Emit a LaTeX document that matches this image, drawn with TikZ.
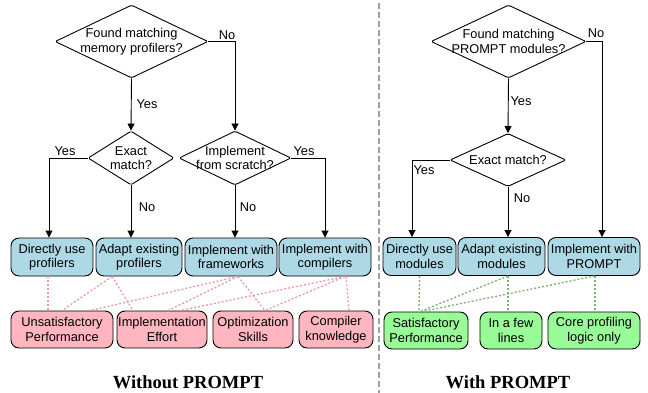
\documentclass[tikz,border=0pt]{standalone}
\usepackage{fontspec}
\newfontfamily\helv{Liberation Sans}
\newfontfamily\titlefont{Liberation Serif}
\usetikzlibrary{shapes.geometric,arrows.meta}
\definecolor{boxblue}{HTML}{ADD8E6}
\definecolor{boxpink}{HTML}{FFB6C1}
\definecolor{boxgreen}{HTML}{98FB98}
\definecolor{linkpink}{HTML}{E89AA8}
\definecolor{linkgreen}{HTML}{7FAF72}
\definecolor{divgray}{HTML}{A0A0A0}
\begin{document}
\begin{tikzpicture}[x=1pt,y=-1pt,
  every node/.style={font=\helv\fontsize{12.8}{14.5}\selectfont, align=center},
  decision/.style={diamond, draw, line width=0.9pt, inner sep=0pt, rounded corners=1.5pt},
  txt/.style={inner sep=0pt},
  outcome/.style={draw, line width=0.9pt, rounded corners=8pt, minimum height=38pt, inner sep=0pt, fill=boxblue},
  badeffect/.style={outcome, minimum height=37pt, fill=boxpink},
  goodeffect/.style={outcome, minimum height=37pt, fill=boxgreen},
  flow/.style={-{Triangle[width=7pt,length=7pt]}, line width=0.9pt},
  lbl/.style={inner sep=0pt},
  badlink/.style={draw=linkpink, line width=1.3pt, dash pattern=on 2pt off 2pt},
  goodlink/.style={draw=linkgreen, line width=1.3pt, dash pattern=on 2pt off 2pt},
  title/.style={font=\titlefont\bfseries\fontsize{18.5}{20}\selectfont, inner sep=0pt}
]
\fill[white] (0,0) rectangle (648,393);
\useasboundingbox (0,0) rectangle (648,393);

% divider
\draw[divgray, line width=2pt, dash pattern=on 6pt off 3pt] (379,3) -- (379,393);

% ---------- left: without PROMPT ----------
\node[decision, minimum width=153pt, minimum height=73pt] (d1) at (131.5,41.5) {};
\node[txt] (d1t) at (d1.center) {Found matching\\memory profilers?};
\node[decision, minimum width=86pt, minimum height=54pt] (d2) at (131,158) {};
\node[txt] (d2t) at (d2.center) {Exact\\match?};
\node[decision, minimum width=112pt, minimum height=54pt] (d3) at (235,158) {};
\node[txt] (d3t) at (d3.center) {Implement\\from scratch?};

\node[outcome, minimum width=82pt] (b1) at (52,257) {Directly use\\profilers};
\node[outcome, minimum width=86pt] (b2) at (139,257) {Adapt existing\\profilers};
\node[outcome, minimum width=92pt] (b3) at (231,257) {Implement with\\frameworks};
\node[outcome, minimum width=92pt] (b4) at (325,257) {Implement with\\compilers};

\node[badeffect, minimum width=102pt] (p1) at (62,329.5) {Unsatisfactory\\Performance};
\node[badeffect, minimum width=90pt] (p2) at (162,329.5) {Implementation\\Effort};
\node[badeffect, minimum width=80pt] (p3) at (253,329.5) {Optimization\\Skills};
\node[badeffect, minimum width=74pt] (p4) at (336,329.5) {Compiler\\knowledge};

\draw[flow] (d1.south) -- (d2.north);
\draw[flow] (d1.east) -| (d3.north);
\draw[flow] (d2.west) -| ([xshift=-3pt]b1.north);
\draw[flow] (d2.south) -- (d2.south |- b2.north);
\draw[flow] (d3.south) -- (d3.south |- b3.north);
\draw[flow] (d3.east) -| (b4.north);

\node[lbl] (l1) at (227,35) {No};
\node[lbl] (l2) at (147,104) {Yes};
\node[lbl] (l3) at (65,151) {Yes};
\node[lbl] (l4) at (147,207) {No};
\node[lbl] (l5) at (248,207) {No};
\node[lbl] (l6) at (304,151) {Yes};

\draw[badlink] ([xshift=-4pt]b1.south) -- ([xshift=-14pt]p1.north);
\draw[badlink] ([xshift=-27pt]b2.south) -- (p1.north);
\draw[badlink] ([xshift=-27pt]b2.south) -- ([xshift=-29pt]p2.north);
\draw[badlink] ([xshift=7pt]b3.south) -- ([xshift=28pt]p1.north);
\draw[badlink] ([xshift=7pt]b3.south) -- ([xshift=6pt]p2.north);
\draw[badlink] ([xshift=7pt]b3.south) -- ([xshift=12pt]p3.north);
\draw[badlink] ([xshift=20pt]b4.south) -- ([xshift=18pt]p2.north);
\draw[badlink] ([xshift=20pt]b4.south) -- ([xshift=12pt]p3.north);
\draw[badlink] ([xshift=21pt]b4.south) -- ([xshift=13pt]p4.north);

\node[title] (t1) at (188,382) {Without PROMPT};

% ---------- right: with PROMPT ----------
\node[decision, minimum width=155pt, minimum height=73pt] (r1) at (508.5,41.5) {};
\node[txt] (r1t) at (r1.center) {Found matching\\PROMPT modules?};
\node[decision, minimum width=116pt, minimum height=53pt] (r2) at (508,160) {};
\node[txt] (r2t) at (r2.center) {Exact match?};

\node[outcome, minimum width=73pt] (s1) at (419.5,256.5) {Directly use\\modules};
\node[outcome, minimum width=87pt] (s2) at (501.5,256.5) {Adapt existing\\modules};
\node[outcome, minimum width=92pt] (s3) at (594,256.5) {Implement with\\PROMPT};

\node[goodeffect, minimum width=84pt] (g1) at (426,330.5) {Satisfactory\\Performance};
\node[goodeffect, minimum width=62pt] (g2) at (511,330.5) {In a few\\lines};
\node[goodeffect, minimum width=92pt] (g3) at (594,330.5) {Core profiling\\logic only};

\draw[flow] (r1.south) -- (r2.north);
\draw[flow] (r1.east) -| ([xshift=8pt]s3.north);
\draw[flow] (r2.west) -| ([xshift=-7.5pt]s1.north);
\draw[flow] (r2.south) -- (r2.south |- s2.north);

\node[lbl] (m1) at (596,33) {No};
\node[lbl] (m2) at (521,101.5) {Yes};
\node[lbl] (m3) at (424,170) {Yes};
\node[lbl] (m4) at (522,198) {No};

\draw[goodlink] (s1.south) -- ([xshift=-7pt]g1.north);
\draw[goodlink] ([xshift=6.5pt]s2.south) -- ([xshift=-6pt]g1.north);
\draw[goodlink] ([xshift=6.5pt]s2.south) -- ([xshift=-3pt]g2.north);
\draw[goodlink] ([xshift=1pt]s3.south) -- ([xshift=-4pt]g1.north);
\draw[goodlink] ([xshift=1pt]s3.south) -- ([xshift=1pt]g3.north);

\node[title] (t2) at (508,382) {With PROMPT};
\end{tikzpicture}
\end{document}
